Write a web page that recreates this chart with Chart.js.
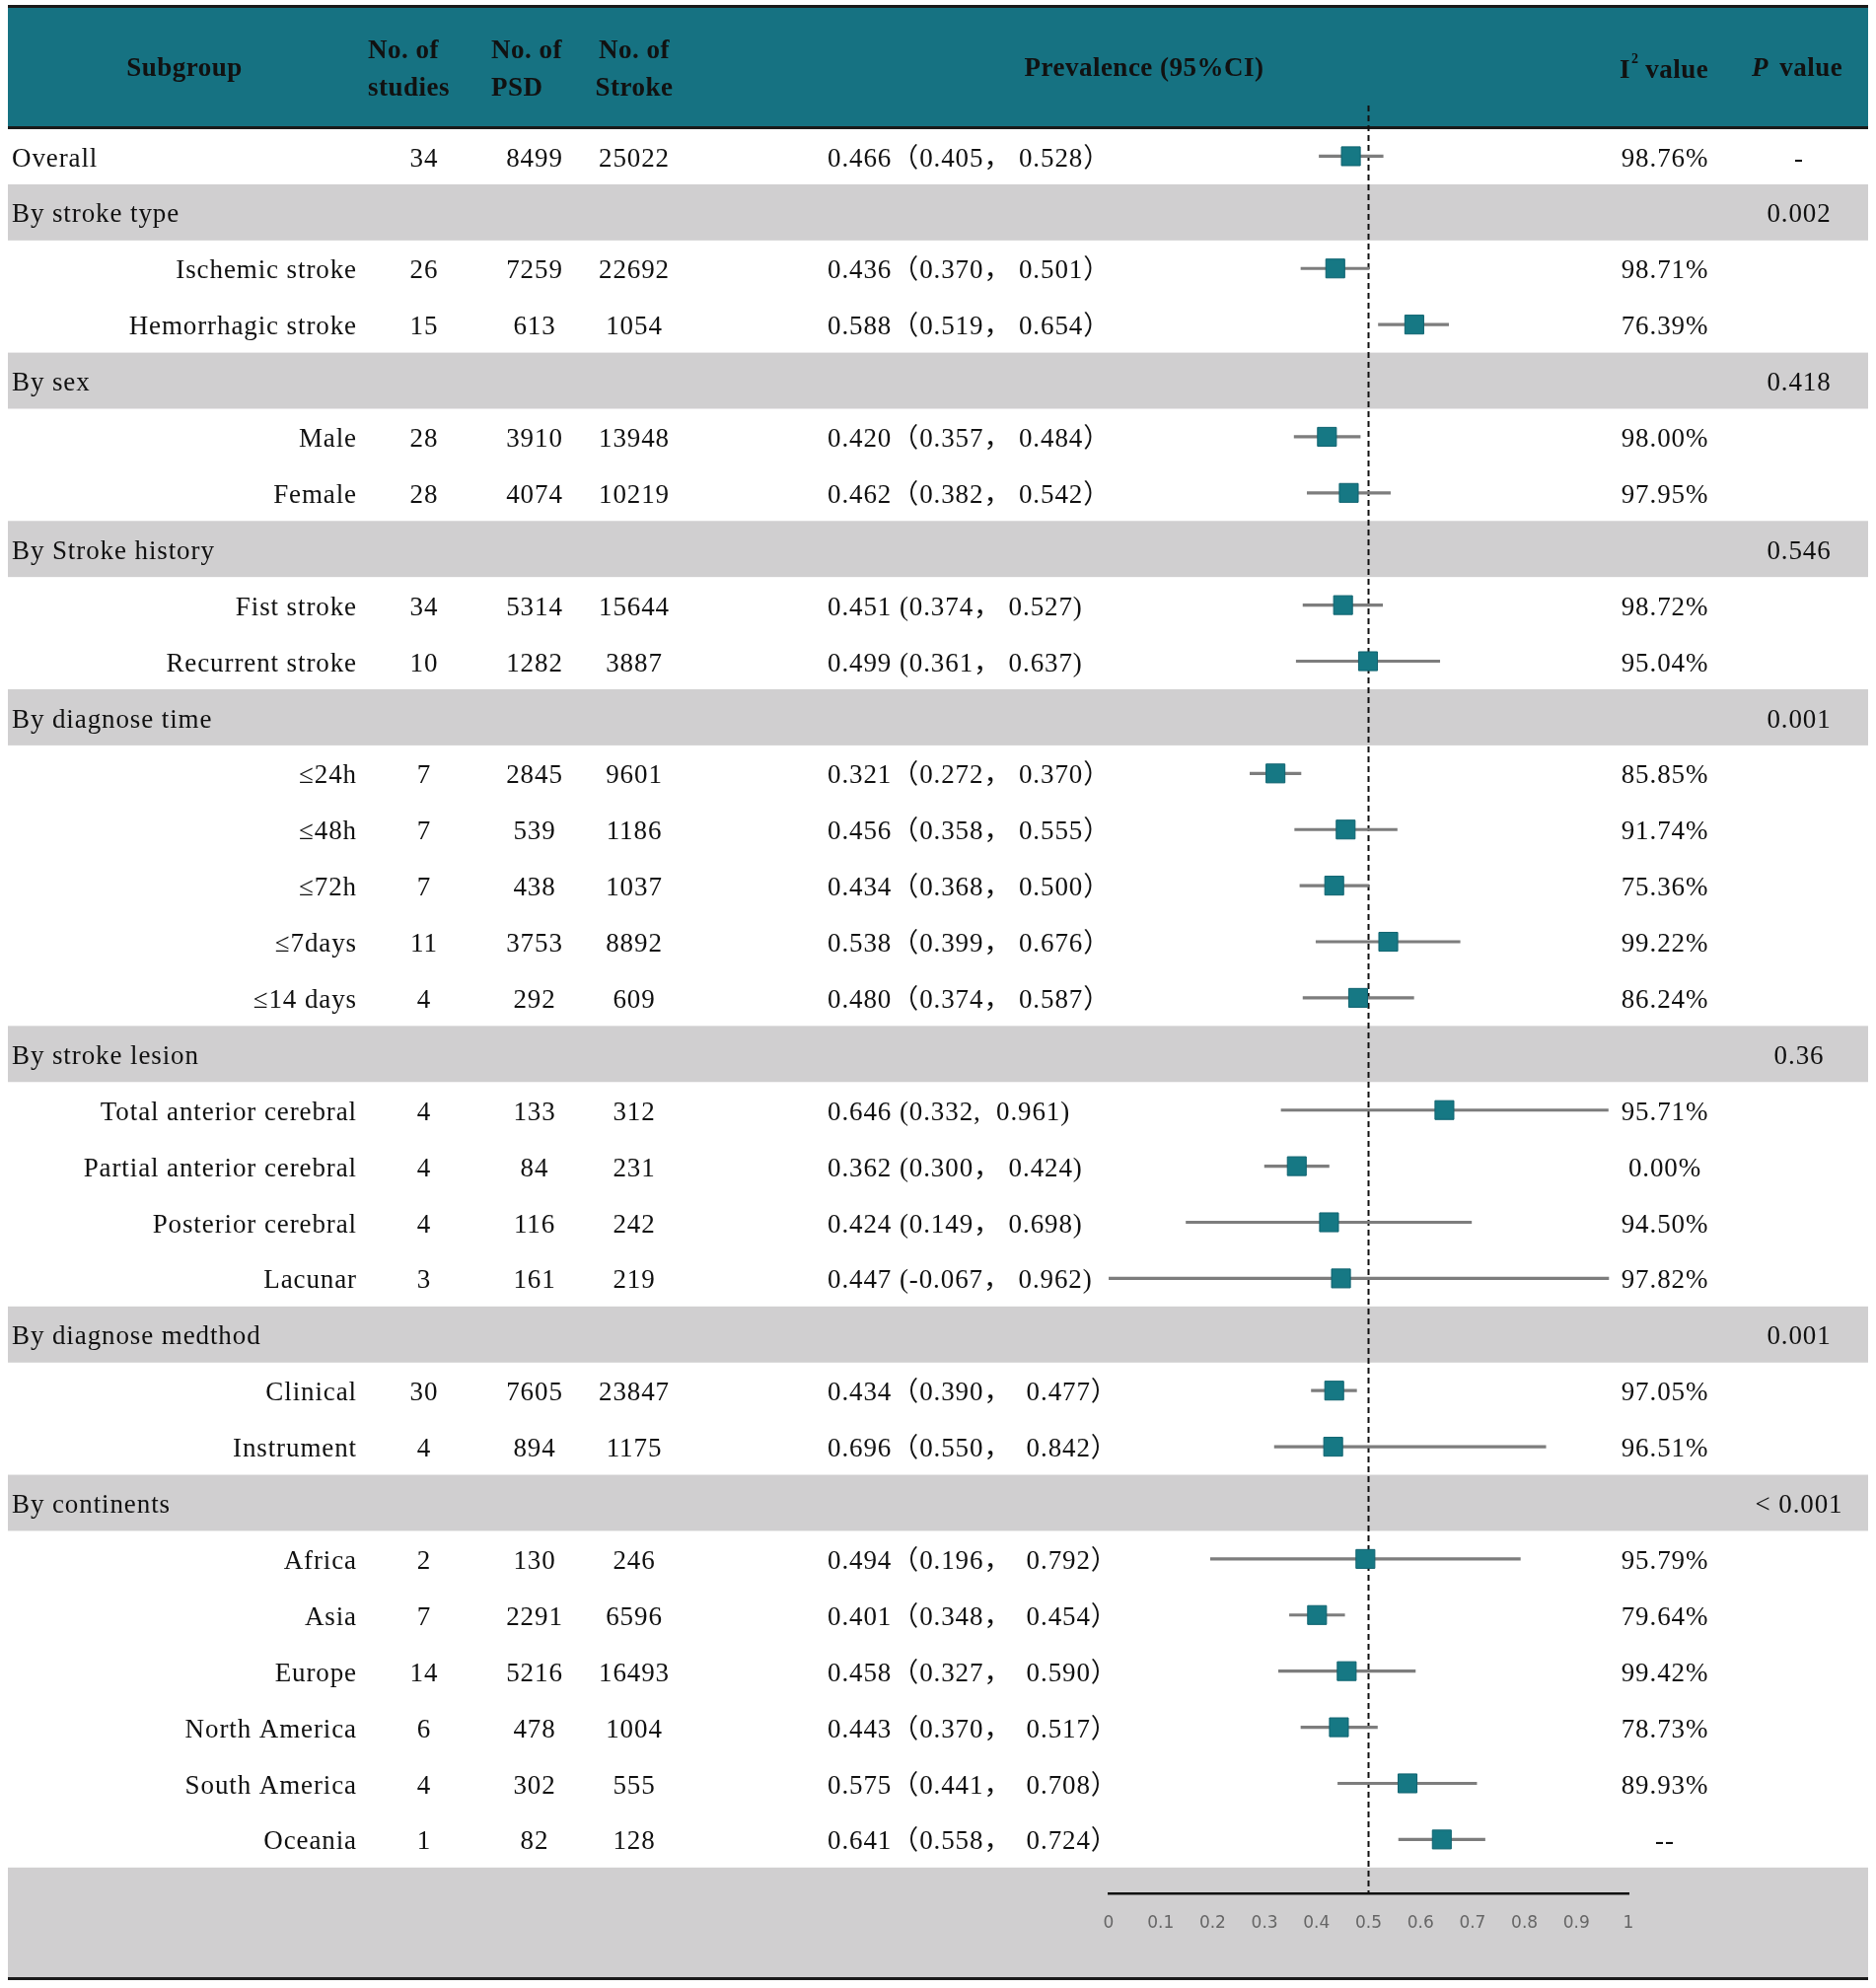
<!DOCTYPE html>
<html>
<head>
<meta charset="utf-8">
<script src="https://cdn.jsdelivr.net/npm/chart.js@4.4.0/dist/chart.umd.min.js"></script>
<style>
html,body{margin:0;padding:0;background:#fff;}
#wrap{width:1902px;height:2016px;position:relative;}
</style>
</head>
<body>
<div id="wrap"><canvas id="c"></canvas></div>
<script>
// ---------- DATA ----------
const rowLabels = ['Overall','By stroke type','Ischemic stroke','Hemorrhagic stroke','By sex','Male','Female',
  'By Stroke history','Fist stroke','Recurrent stroke','By diagnose time','≤24h','≤48h','≤72h','≤7days','≤14 days',
  'By stroke lesion','Total anterior cerebral','Partial anterior cerebral','Posterior cerebral','Lacunar',
  'By diagnose medthod','Clinical','Instrument','By continents','Africa','Asia','Europe','North America','South America','Oceania'];
const rowKinds = ['o','g','s','s','g','s','s','g','s','s','g','s','s','s','s','s','g','s','s','s','s','g','s','s','g','s','s','s','s','s','s'];
const nStudies = [34,null,26,15,null,28,28,null,34,10,null,7,7,7,11,4,null,4,4,4,3,null,30,4,null,2,7,14,6,4,1];
const nPSD = [8499,null,7259,613,null,3910,4074,null,5314,1282,null,2845,539,438,3753,292,null,133,84,116,161,null,7605,894,null,130,2291,5216,478,302,82];
const nStroke = [25022,null,22692,1054,null,13948,10219,null,15644,3887,null,9601,1186,1037,8892,609,null,312,231,242,219,null,23847,1175,null,246,6596,16493,1004,555,128];
const prevText = ['0.466（0.405， 0.528）',null,'0.436（0.370， 0.501）','0.588（0.519， 0.654）',null,
  '0.420（0.357， 0.484）','0.462（0.382， 0.542）',null,'0.451 (0.374， 0.527)','0.499 (0.361， 0.637)',null,
  '0.321（0.272， 0.370）','0.456（0.358， 0.555）','0.434（0.368， 0.500）','0.538（0.399， 0.676）','0.480（0.374， 0.587）',null,
  '0.646 (0.332,  0.961)','0.362 (0.300， 0.424)','0.424 (0.149， 0.698)','0.447 (-0.067， 0.962)',null,
  '0.434（0.390，  0.477）','0.696（0.550，  0.842）',null,
  '0.494（0.196，  0.792）','0.401（0.348，  0.454）','0.458（0.327，  0.590）','0.443（0.370，  0.517）','0.575（0.441，  0.708）','0.641（0.558，  0.724）'];
// plotted marks (as drawn in the figure)
const estimate = [0.466,null,0.436,0.588,null,0.420,0.462,null,0.451,0.499,null,0.321,0.456,0.434,0.538,0.480,null,0.646,0.362,0.424,0.447,null,0.434,0.432,null,0.494,0.401,0.458,0.443,0.575,0.641];
const ciLow = [0.405,null,0.370,0.519,null,0.357,0.382,null,0.374,0.361,null,0.272,0.358,0.368,0.399,0.374,null,0.332,0.300,0.149,-0.067,null,0.390,0.319,null,0.196,0.348,0.327,0.370,0.441,0.558];
const ciHigh = [0.528,null,0.501,0.654,null,0.484,0.542,null,0.527,0.637,null,0.370,0.555,0.500,0.676,0.587,null,0.961,0.424,0.698,0.962,null,0.477,0.841,null,0.792,0.454,0.590,0.517,0.708,0.724];
const i2Text = ['98.76%',null,'98.71%','76.39%',null,'98.00%','97.95%',null,'98.72%','95.04%',null,
  '85.85%','91.74%','75.36%','99.22%','86.24%',null,'95.71%','0.00%','94.50%','97.82%',null,'97.05%','96.51%',null,
  '95.79%','79.64%','99.42%','78.73%','89.93%','--'];
const pText = ['-','0.002',null,null,'0.418',null,null,'0.546',null,null,'0.001',null,null,null,null,null,'0.36',null,null,null,null,'0.001',null,null,'< 0.001',null,null,null,null,null,null];
const xTickLabels = ['0','0.1','0.2','0.3','0.4','0.5','0.6','0.7','0.8','0.9','1'];
const refValue = 0.5;

// ---------- STYLE ----------
const SERIF = "'Liberation Serif','Times New Roman','Noto Sans CJK SC',serif";
const TEAL = '#167282';
const BAND = '#d0cfd0';
const TXT = '#111111';
const TL = 8, TR = 1894;

const idx = estimate.map((v,i)=>v===null?null:i).filter(v=>v!==null);

const tablePlugin = {
  id: 'tablePlugin',
  beforeDraw(chart){
    const ctx = chart.ctx, y = chart.scales.y;
    ctx.save();
    ctx.fillStyle = '#fff'; ctx.fillRect(0,0,chart.width,chart.height);
    ctx.fillStyle = TEAL; ctx.fillRect(TL,7,TR-TL,123);
    ctx.fillStyle = '#1a1a1a'; ctx.fillRect(TL,5,TR-TL,3); ctx.fillRect(TL,128,TR-TL,3);
    ctx.fillStyle = BAND;
    rowKinds.forEach((k,i)=>{
      if(k==='g'){ const t=y.getPixelForValue(i-0.5), b=y.getPixelForValue(i+0.5); ctx.fillRect(TL,t,TR-TL,b-t); }
    });
    const at = y.getPixelForValue(rowKinds.length-0.5);
    ctx.fillRect(TL,at,TR-TL,2005-at);
    ctx.fillStyle = '#1a1a1a'; ctx.fillRect(TL,2005,TR-TL,3);
    ctx.restore();
  },
  beforeDatasetsDraw(chart){
    const ctx = chart.ctx, x = chart.scales.x.getPixelForValue(refValue);
    ctx.save();
    ctx.strokeStyle = '#111'; ctx.lineWidth = 2; ctx.setLineDash([6,4]);
    ctx.beginPath(); ctx.moveTo(x,107); ctx.lineTo(x,chart.chartArea.bottom); ctx.stroke();
    ctx.restore();
  },
  afterDraw(chart){
    const ctx = chart.ctx, y = chart.scales.y;
    ctx.save();
    ctx.fillStyle = TXT; ctx.textBaseline = 'middle';
    // header
    ctx.letterSpacing = '0.5px';
    ctx.font = 'bold 27px ' + SERIF;
    ctx.textAlign = 'center'; ctx.fillText('Subgroup',187,70);
    ctx.textAlign = 'left';
    ctx.fillText('No. of',373,52); ctx.fillText('studies',373,90);
    ctx.fillText('No. of',498,52); ctx.fillText('PSD',498,90);
    ctx.textAlign = 'center';
    ctx.fillText('No. of',643,52); ctx.fillText('Stroke',643,90);
    ctx.fillText('Prevalence (95%CI)',1160,70);
    ctx.textAlign = 'left';
    ctx.fillText('I',1642,72);
    const iw = ctx.measureText('I').width;
    ctx.font = 'bold 14px ' + SERIF; ctx.fillText('2',1642+iw+1,60);
    ctx.font = 'bold 27px ' + SERIF; ctx.fillText(' value',1642+iw+8,72);
    ctx.font = 'italic bold 27px ' + SERIF; ctx.fillText('P',1776,70);
    const pw = ctx.measureText('P').width;
    ctx.font = 'bold 27px ' + SERIF; ctx.fillText(' value',1776+pw+4,70);
    // body
    ctx.letterSpacing = '0.9px';
    ctx.font = '27px ' + SERIF;
    rowLabels.forEach((lab,i)=>{
      const yc = y.getPixelForValue(i) + 3;
      if(rowKinds[i]==='s'){ ctx.textAlign='right'; ctx.fillText(lab,362,yc); }
      else { ctx.textAlign='left'; ctx.fillText(lab,12,yc); }
      ctx.textAlign='center';
      if(nStudies[i]!==null) ctx.fillText(String(nStudies[i]),430,yc);
      if(nPSD[i]!==null) ctx.fillText(String(nPSD[i]),542,yc);
      if(nStroke[i]!==null) ctx.fillText(String(nStroke[i]),643,yc);
      if(i2Text[i]!==null) ctx.fillText(i2Text[i],1688,yc);
      if(pText[i]!==null) ctx.fillText(pText[i],1824,yc);
      ctx.textAlign='left';
      if(prevText[i]!==null) ctx.fillText(prevText[i],839,yc);
    });
    ctx.restore();
  }
};

new Chart(document.getElementById('c'), {
  type: 'scatter',
  data: {
    datasets: [
      {
        type: 'bar', indexAxis: 'y', label: '95% CI',
        data: idx.map(i=>({x:[ciLow[i],ciHigh[i]], y:i})),
        backgroundColor: '#7d7d7d', borderWidth: 0, barThickness: 2.5, order: 2
      },
      {
        type: 'scatter', label: 'Prevalence',
        data: idx.map(i=>({x:estimate[i], y:i})),
        pointStyle: 'rect', pointRadius: 13.5, pointBackgroundColor: '#167884',
        pointBorderColor: '#0f6370', pointBorderWidth: 1, order: 1
      }
    ]
  },
  options: {
    responsive: true, maintainAspectRatio: false, animation: false, devicePixelRatio: 1,
    events: [],
    layout: { padding: { left: 1124, right: 251, top: 130, bottom: 36 } },
    plugins: { legend: { display: false }, tooltip: { enabled: false } },
    scales: {
      x: {
        type: 'linear', min: 0, max: 1, position: 'bottom', offset: false,
        grid: { display: false, drawTicks: false, offset: false },
        border: { display: true, color: '#111', width: 2.5 },
        ticks: { stepSize: 0.1, padding: 20, color: '#666', font: { family: 'DejaVu Sans', size: 17 },
          callback: (v) => xTickLabels[Math.round(v*10)] },
        afterFit(s){ s.height = 60; }
      },
      y: { type: 'linear', reverse: true, min: -0.5, max: 30.96, display: false, offset: false,
        grid: { offset: false } }
    }
  },
  plugins: [tablePlugin]
});
</script>
</body>
</html>
